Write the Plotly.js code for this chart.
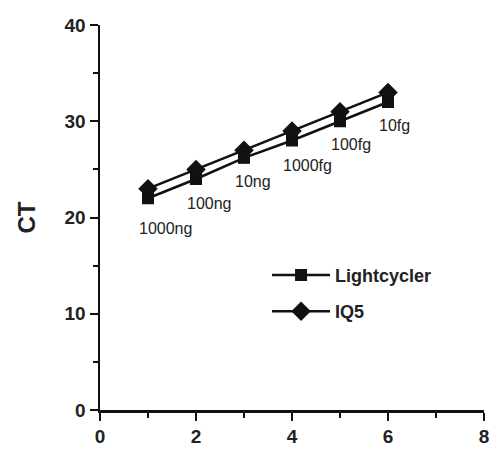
<!DOCTYPE html>
<html>
<head>
<meta charset="utf-8">
<script src="https://cdn.plot.ly/plotly-3.0.1.min.js"></script>
<style>html,body{margin:0;padding:0;background:#fff;}#chart{width:491px;height:452px;}</style>
</head>
<body>
<div id="chart"></div>
<script>
var xValues = [1, 2, 3, 4, 5, 6];
var lightcycler = [22, 24, 26.2, 28, 30, 32];
var iq5 = [23, 25, 27, 29, 31, 33];
var doseLabels = ['1000ng', '100ng', '10ng', '1000fg', '100fg', '10fg'];
var labelShift = [-30, -24, -24, -25, -23, -23];

var fontFam = 'Arial, "Liberation Sans", Helvetica, sans-serif';

var traces = [
  {
    x: xValues, y: lightcycler, name: 'Lightcycler', type: 'scatter', mode: 'lines+markers',
    legendgroup: 'a',
    line: {color: '#111', width: 2.5},
    marker: {symbol: 'square', size: 12, color: '#111'}
  },
  {
    x: xValues, y: iq5, name: 'IQ5', type: 'scatter', mode: 'lines+markers',
    legendgroup: 'b',
    line: {color: '#111', width: 2.5},
    marker: {symbol: 'diamond', size: 15, color: '#111'}
  }
];

var annotations = doseLabels.map(function (t, i) {
  return {
    x: xValues[i], y: lightcycler[i], xref: 'x', yref: 'y',
    text: t, showarrow: false, xanchor: 'left', yanchor: 'middle',
    xshift: -11, yshift: labelShift[i],
    font: {family: fontFam, size: 16, color: '#222'}
  };
});

var axisCommon = {
  showgrid: false, zeroline: false, showline: true,
  linecolor: '#111', linewidth: 2.5,
  ticks: 'outside', ticklen: 8, tickwidth: 2, tickcolor: '#111',
  tickfont: {family: fontFam, size: 19, color: '#222', weight: 'bold'}
};

var layout = {
  width: 491, height: 452,
  margin: {l: 100, r: 7, t: 25, b: 42},
  paper_bgcolor: '#fff', plot_bgcolor: '#fff',
  showlegend: true,
  legend: {
    x: 0.435, y: 0.398, xanchor: 'left', yanchor: 'top',
    bgcolor: 'rgba(0,0,0,0)', itemwidth: 58, traceorder: 'grouped', tracegroupgap: 10,
    font: {family: fontFam, size: 18, color: '#222', weight: 'bold'}
  },
  xaxis: Object.assign({}, axisCommon, {
    range: [0, 8], dtick: 2, tick0: 0,
    minor: {ticks: 'outside', ticklen: 5, tickwidth: 2, tickcolor: '#111', dtick: 1}
  }),
  yaxis: Object.assign({}, axisCommon, {
    range: [0, 40], dtick: 10, tick0: 0,
    minor: {ticks: 'outside', ticklen: 5, tickwidth: 2, tickcolor: '#111', dtick: 5},
    title: {text: 'CT', standoff: 22, font: {family: fontFam, size: 24, color: '#222', weight: 'bold'}}
  }),
  annotations: annotations
};

Plotly.newPlot('chart', traces, layout, {displayModeBar: false, staticPlot: true});
</script>
</body>
</html>
